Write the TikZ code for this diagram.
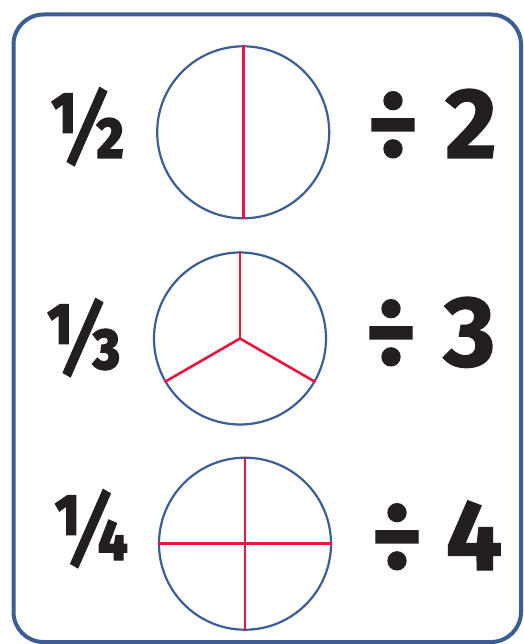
\documentclass[tikz,border=0pt]{standalone}
\usepackage{fontspec}
\newfontfamily\heavy{Fira Sans}[FakeBold=1.2]
\newfontfamily\fracfont{Fira Sans}[FakeBold=1.2,FakeStretch=0.85]
\definecolor{frameblue}{HTML}{3C5E94}
\definecolor{cutred}{HTML}{E8173F}
\definecolor{ink}{HTML}{231F20}
\begin{document}
\begin{tikzpicture}[x=1pt,y=-1pt,
  ring/.style={draw=frameblue,line width=2.2pt},
  cut/.style={draw=cutred,line width=2.6pt},
  bigtext/.style={inner sep=0pt,anchor=base,text=ink,font=\heavy\bfseries\fontsize{100}{100}\selectfont},
  fractext/.style={inner sep=0pt,anchor=base,text=ink,font=\fracfont\bfseries\fontsize{93}{93}\selectfont}]
\useasboundingbox (0,0) rectangle (523,644);
\fill[white] (0,0) rectangle (523,644);
\draw[frameblue,line width=4pt,rounded corners=30pt] (13.5,14.5) rectangle (521,642);
% row 1
\node[fractext] (f1) at (87,158) {½};
\node[ring,circle,minimum size=172pt,inner sep=0pt] (c1) at (243.2,132.3) {};
\draw[cut] (c1.north) -- (c1.south);
\node[bigtext] (d1) at (393,158) {÷};
\node[bigtext] (n1) at (471,158) {2};
% row 2
\node[fractext] (f2) at (83,369) {⅓};
\node[ring,circle,minimum size=172pt,inner sep=0pt] (c2) at (240,338.5) {};
\coordinate (m2) at (c2.center);
\draw[cut] (m2) -- (c2.90);
\draw[cut] (m2) -- (c2.210);
\draw[cut] (m2) -- (c2.330);
\node[bigtext] (d2) at (391,366) {÷};
\node[bigtext] (n2) at (469.5,366) {3};
% row 3
\node[fractext] (f3) at (90.5,560) {¼};
\node[ring,circle,minimum size=172pt,inner sep=0pt] (c3) at (245,543.7) {};
\draw[cut] (c3.north) -- (c3.south);
\draw[cut] (c3.west) -- (c3.east);
\node[bigtext] (d3) at (397,570) {÷};
\node[bigtext] (n3) at (474,570) {4};
\end{tikzpicture}
\end{document}
